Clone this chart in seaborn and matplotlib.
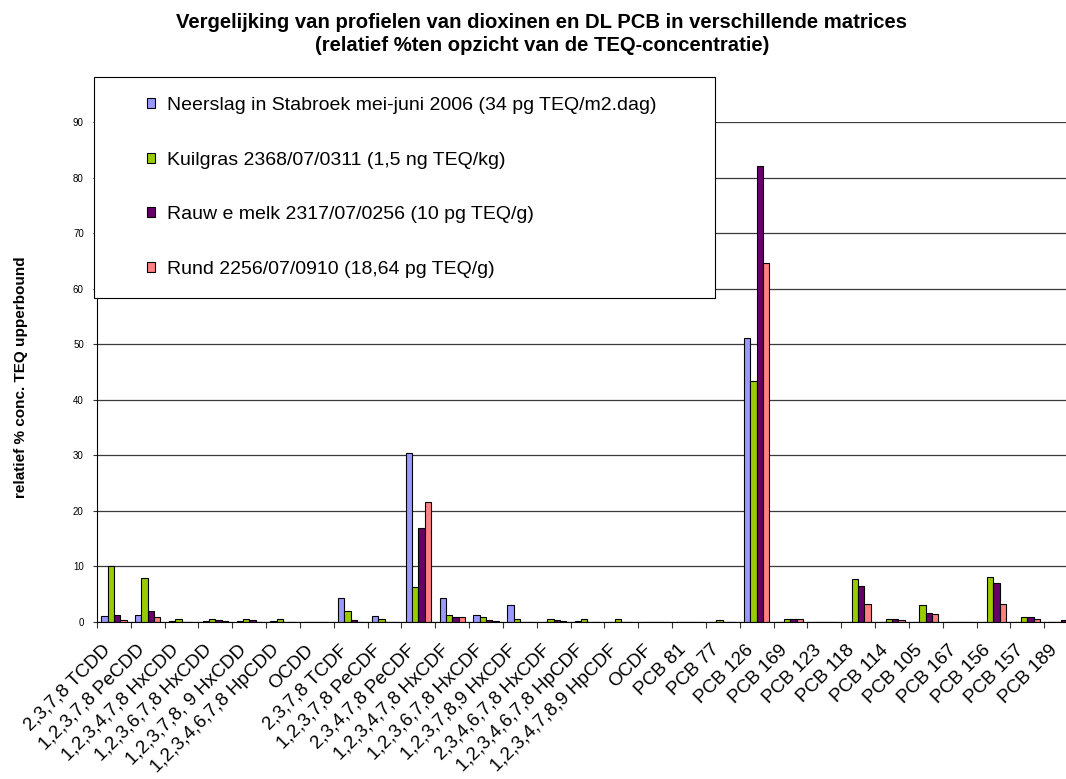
import numpy as np
import pandas as pd
import matplotlib
matplotlib.use("Agg")
import matplotlib.pyplot as plt
import seaborn as sns
from matplotlib.patches import Rectangle, Patch
from matplotlib.transforms import ScaledTranslation

# ---------------- data ----------------
categories = [
    "2,3,7,8 TCDD", "1,2,3,7,8 PeCDD", "1,2,3,4,7,8 HxCDD", "1,2,3,6,7,8 HxCDD",
    "1,2,3,7,8, 9 HxCDD", "1,2,3,4,6,7,8 HpCDD", "OCDD", "2,3,7,8 TCDF",
    "1,2,3,7,8 PeCDF", "2,3,4,7,8 PeCDF", "1,2,3,4,7,8 HxCDF", "1,2,3,6,7,8 HxCDF",
    "1,2,3,7,8,9 HxCDF", "2,3,4,6,7,8 HxCDF", "1,2,3,4,6,7,8 HpCDF",
    "1,2,3,4,7,8,9 HpCDF", "OCDF", "PCB 81", "PCB 77", "PCB 126", "PCB 169",
    "PCB 123", "PCB 118", "PCB 114", "PCB 105", "PCB 167", "PCB 156", "PCB 157",
    "PCB 189",
]
series_names = [
    "Neerslag in Stabroek mei-juni 2006 (34 pg TEQ/m2.dag)",
    "Kuilgras 2368/07/0311 (1,5 ng TEQ/kg)",
    "Rauw e melk 2317/07/0256 (10 pg TEQ/g)",
    "Rund 2256/07/0910 (18,64 pg TEQ/g)",
]
neerslag   = [1.0, 1.3, 0.2, 0.2, 0.2, 0.2, 0, 4.3, 1.0, 30.4, 4.3, 1.3, 3.0, 0.0, 0.2,
              0.0, 0, 0, 0.0, 51.2, 0.0, 0, 0.0, 0.0, 0.0, 0, 0.0, 0.0, 0.0]
kuilgras   = [10.1, 8.0, 0.6, 0.6, 0.6, 0.6, 0, 2.0, 0.6, 6.3, 1.3, 0.9, 0.6, 0.6, 0.6,
              0.6, 0, 0, 0.3, 43.3, 0.6, 0, 7.7, 0.6, 3.0, 0, 8.1, 0.9, 0.0]
rauwe_melk = [1.3, 1.9, 0.0, 0.3, 0.3, 0.0, 0, 0.3, 0.0, 16.9, 0.9, 0.3, 0.0, 0.3, 0.0,
              0.0, 0, 0, 0.0, 82.0, 0.6, 0, 6.4, 0.6, 1.7, 0, 7.0, 0.9, 0.3]
rund       = [0.3, 0.9, 0.0, 0.2, 0.0, 0.0, 0, 0.0, 0.0, 21.6, 0.9, 0.2, 0.0, 0.2, 0.0,
              0.0, 0, 0, 0.0, 64.7, 0.6, 0, 3.3, 0.3, 1.4, 0, 3.3, 0.6, 0.0]
colors = ["#9999FF", "#99CC00", "#660066", "#FF8080"]
y_ticks = list(range(0, 91, 10))

title_1 = "Vergelijking van profielen van dioxinen en DL PCB in verschillende matrices"
title_2 = "(relatief %ten opzicht van de TEQ-concentratie)"
y_label = "relatief % conc. TEQ upperbound"

df = pd.DataFrame({
    "categorie": categories * 4,
    "serie": np.repeat(series_names, len(categories)),
    "waarde": neerslag + kuilgras + rauwe_melk + rund,
})

# ---------------- style ----------------
sns.set_style("white")
plt.rcParams["font.family"] = ["Liberation Sans", "DejaVu Sans"]
plt.rcParams["text.color"] = "black"
plt.rcParams["axes.labelcolor"] = "black"
plt.rcParams["xtick.color"] = "black"
plt.rcParams["ytick.color"] = "black"

W, H = 1066, 779
fig = plt.figure(figsize=(W / 100, H / 100), dpi=100)
ax_l, ax_r, ax_t, ax_b = 97, 1078, 122, 622
ax = fig.add_axes([ax_l / W, 1 - ax_b / H, (ax_r - ax_l) / W, (ax_b - ax_t) / H])

sns.barplot(data=df, x="categorie", y="waarde", hue="serie", order=categories,
            hue_order=series_names, palette=colors, width=0.75, errorbar=None,
            edgecolor="black", linewidth=0.8, saturation=1, legend=False, ax=ax)

ax.set_xlim(-0.5, len(categories) - 0.5)
ax.set_ylim(0, 90)
ax.set_yticks(y_ticks)
ax.yaxis.grid(True, color="#3a3a3a", linewidth=0.9)
ax.xaxis.grid(False)
ax.set_axisbelow(True)

for s in ["top", "right"]:
    ax.spines[s].set_visible(False)
for s in ["left", "bottom"]:
    ax.spines[s].set_color("black")
    ax.spines[s].set_linewidth(0.8)

ax.tick_params(axis="y", length=3, width=0.8, color="#333333", labelsize=7, pad=6.5, left=True)

# category boundaries carry the tick marks; labels hang from them (Excel style)
ax.set_xticks(np.arange(len(categories) + 1) - 0.5, labels=categories + [""])
ax.tick_params(axis="x", which="major", length=4, width=0.8, color="#333333",
               bottom=True, pad=10, labelsize=13.5, labelrotation=45)
shift = ScaledTranslation(5 / 100, 0, fig.dpi_scale_trans)
for lbl in ax.get_xticklabels():
    lbl.set_ha("right")
    lbl.set_va("top")
    lbl.set_rotation_mode("anchor")
    lbl.set_transform(lbl.get_transform() + shift)

ax.set_xlabel("")
ax.set_ylabel(y_label, fontsize=11, fontweight="bold")
ax.yaxis.set_label_coords((28 - ax_l) / (ax_r - ax_l), (ax_b - 377) / (ax_b - ax_t))

# title
fig.text(542 / W, 1 - 28 / H, title_1, ha="center", va="baseline", fontsize=14.6, fontweight="bold")
fig.text(542 / W, 1 - 51 / H, title_2, ha="center", va="baseline", fontsize=14.6, fontweight="bold")

# legend box
fig.add_artist(Rectangle((94 / W, 1 - 298 / H), (714.5 - 94) / W, (298 - 77) / H,
                         transform=fig.transFigure, facecolor="white", edgecolor="black",
                         linewidth=0.8, zorder=3))
handles = [Patch(facecolor=c, edgecolor="black", linewidth=0.8) for c in colors]
fig.legend(handles=handles, labels=series_names, loc="upper left",
           bbox_to_anchor=(147 / W, 1 - 97 / H), frameon=False, fontsize=14,
           handlelength=0.42, handleheight=0.42, handletextpad=0.6,
           labelspacing=1.93, borderpad=0, borderaxespad=0)

fig.savefig("out.png", dpi=100)
